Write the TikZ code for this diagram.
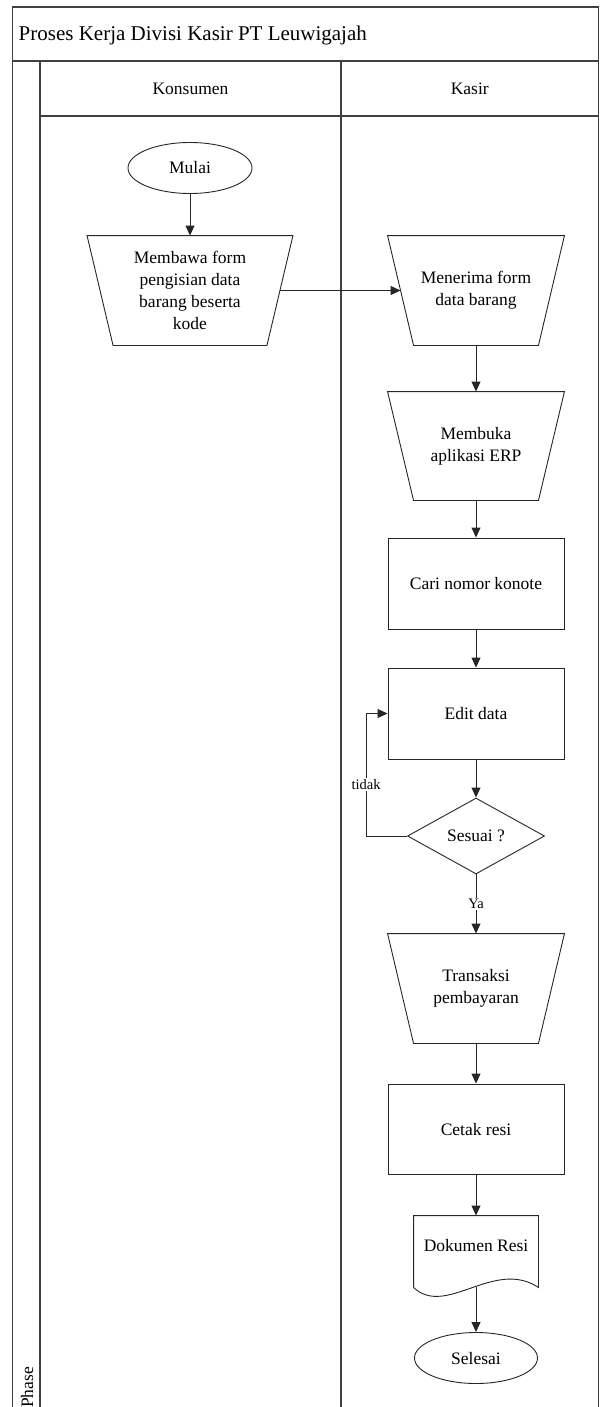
\documentclass[tikz,border=0pt]{standalone}
\usepackage{fontspec}
\setmainfont{Liberation Serif}
\usetikzlibrary{shapes.geometric,arrows.meta,calc}
\newcommand\iotrap[1]{\draw[draw=black!85,line width=0.9pt] ([xshift=-13pt]#1.north west) -- ([xshift=13pt]#1.north east) -- ([xshift=-13pt]#1.south east) -- ([xshift=13pt]#1.south west) -- cycle;}
\begin{document}
\begin{tikzpicture}[x=1pt,y=-1pt,
  frame/.style={draw=black!75, line width=1.4pt},
  shp/.style={draw=black!85, line width=0.9pt, font=\fontsize{17.5}{22}\selectfont, align=center, inner sep=0pt},
  proc/.style={shp, rectangle, minimum width=176pt, minimum height=91pt},
  term/.style={shp, ellipse, minimum width=124pt, minimum height=51pt},
  iobox/.style={shp, draw=none, rectangle, minimum height=109pt, minimum width=150pt},
  dec/.style={shp, diamond, aspect=1.8, minimum width=137pt, minimum height=76pt},
  arr/.style={draw=black!85, line width=0.9pt, -{Triangle[length=10pt,width=9pt]}},
  lbl/.style={font=\fontsize{14.5}{16}\selectfont, fill=white, inner sep=1pt},
  hdr/.style={font=\fontsize{17.5}{22}\selectfont, inner sep=0pt}
]
\useasboundingbox (0,0) rectangle (600,1407);
\clip (0,0) rectangle (600,1407);

% frame
\draw[frame] (12.5,1420) -- (12.5,7) -- (598.5,7) -- (598.5,1420);
\draw[frame] (12.5,61) -- (598.5,61);
\draw[frame] (40,61) -- (40,1420);
\draw[frame] (40,116) -- (598.5,116);
\draw[frame] (341,61) -- (341,1420);

\node[anchor=base west, font=\fontsize{21}{24}\selectfont, inner sep=0pt] (title) at (18.5,41) {Proses Kerja Divisi Kasir PT Leuwigajah};
\node[hdr, anchor=base] (hkons) at (190.5,95) {Konsumen};
\node[hdr, anchor=base] (hkasir) at (469.75,95) {Kasir};
\node[hdr, anchor=base west, rotate=90] (phase) at (33,1408) {Phase};

% nodes
\node[term] (mulai) at (190,168) {Mulai};
\node[iobox, minimum width=179pt] (membawa) at (190,290.5) {Membawa form\\pengisian data\\barang beserta\\kode};
\iotrap{membawa}
\node[iobox] (menerima) at (476,290.5) {Menerima form\\data barang};
\iotrap{menerima}
\node[iobox, minimum height=108pt] (membuka) at (476,446) {Membuka\\aplikasi ERP};
\iotrap{membuka}
\node[proc] (cari) at (476,583.5) {Cari nomor konote};
\node[proc] (edit) at (476,713.5) {Edit data};
\node[dec] (sesuai) at (476,836) {Sesuai ?};
\node[iobox] (transaksi) at (476,988.5) {Transaksi\\pembayaran};
\iotrap{transaksi}
\node[proc, minimum height=90pt] (cetak) at (476,1129) {Cetak resi};
\node[shp, draw=none, rectangle, minimum width=124pt, minimum height=71pt, text depth=12pt] (dok) at (476,1251.5) {Dokumen Resi};
\draw[draw=black!85, line width=0.9pt] (dok.south west) -- (dok.north west) -- (dok.north east) -- (dok.south east) .. controls (494,1258) and (446,1318) .. (dok.south west);
\node[term, minimum width=123pt] (selesai) at (476,1358) {Selesai};

% connectors
\draw[arr] (mulai) -- (membawa);
\draw[arr] (membawa) -- (menerima);
\draw[arr] (menerima) -- (membuka);
\draw[arr] (membuka) -- (cari);
\draw[arr] (cari) -- (edit);
\draw[arr] (edit) -- (sesuai);
\draw[arr] (sesuai) -- node[lbl] {Ya} (transaksi);
\draw[arr] (sesuai.west) -- ++(-41,0) |- node[lbl, pos=0.21] {tidak} (edit.west);
\draw[arr] (transaksi) -- (cetak);
\draw[arr] (cetak) -- (dok);
\draw[arr] (dok) -- (selesai);
\end{tikzpicture}
\end{document}
